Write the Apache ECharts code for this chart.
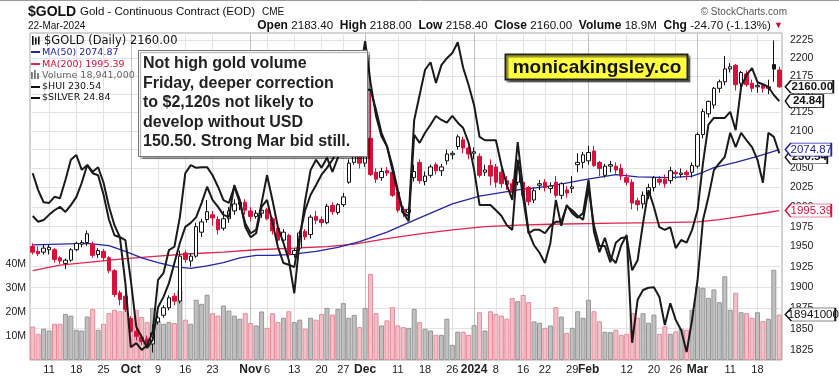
<!DOCTYPE html>
<html><head><meta charset="utf-8">
<script src="https://cdn.jsdelivr.net/npm/echarts@6/dist/echarts.min.js"></script>
<style>html,body{margin:0;padding:0;background:#fff}#c{width:839px;height:379px}</style>
</head><body><div id="c"></div>
<script>
// ---------- DATA ----------
const dates = [
'2023-09-06','2023-09-07','2023-09-08','2023-09-11','2023-09-12','2023-09-13','2023-09-14','2023-09-15','2023-09-18','2023-09-19','2023-09-20','2023-09-21','2023-09-22','2023-09-25','2023-09-26','2023-09-27','2023-09-28','2023-09-29',
'2023-10-02','2023-10-03','2023-10-04','2023-10-05','2023-10-06','2023-10-09','2023-10-10','2023-10-11','2023-10-12','2023-10-13','2023-10-16','2023-10-17','2023-10-18','2023-10-19','2023-10-20','2023-10-23','2023-10-24','2023-10-25','2023-10-26','2023-10-27','2023-10-30','2023-10-31',
'2023-11-01','2023-11-02','2023-11-03','2023-11-06','2023-11-07','2023-11-08','2023-11-09','2023-11-10','2023-11-13','2023-11-14','2023-11-15','2023-11-16','2023-11-17','2023-11-20','2023-11-21','2023-11-22','2023-11-24','2023-11-27','2023-11-28','2023-11-29','2023-11-30',
'2023-12-01','2023-12-04','2023-12-05','2023-12-06','2023-12-07','2023-12-08','2023-12-11','2023-12-12','2023-12-13','2023-12-14','2023-12-15','2023-12-18','2023-12-19','2023-12-20','2023-12-21','2023-12-22','2023-12-26','2023-12-27','2023-12-28','2023-12-29',
'2024-01-02','2024-01-03','2024-01-04','2024-01-05','2024-01-08','2024-01-09','2024-01-10','2024-01-11','2024-01-12','2024-01-16','2024-01-17','2024-01-18','2024-01-19','2024-01-22','2024-01-23','2024-01-24','2024-01-25','2024-01-26','2024-01-29','2024-01-30','2024-01-31',
'2024-02-01','2024-02-02','2024-02-05','2024-02-06','2024-02-07','2024-02-08','2024-02-09','2024-02-12','2024-02-13','2024-02-14','2024-02-15','2024-02-16','2024-02-20','2024-02-21','2024-02-22','2024-02-23','2024-02-26','2024-02-27','2024-02-28','2024-02-29',
'2024-03-01','2024-03-04','2024-03-05','2024-03-06','2024-03-07','2024-03-08','2024-03-11','2024-03-12','2024-03-13','2024-03-14','2024-03-15','2024-03-18','2024-03-19','2024-03-20','2024-03-21','2024-03-22'];

const openP = [1950,1944,1943,1946,1946,1936,1929,1933,1946,1953,1955,1953,1940,1944,1936,1920,1893,1889,
1862,1847,1840,1838,1832,1858,1866,1875,1889,1883,1942,1932,1938,1968,1984,1990,1984,1973,1985,1995,2003,2006,
1995,1988,1992,1997,1985,1973,1958,1964,1940,1948,1969,1965,1988,1984,1980,2002,1993,2003,2032,2058,2067,
2057,2090,2045,2038,2047,2045,2019,1997,1993,2038,2058,2033,2041,2055,2047,2060,2068,2079,2088,2077,
2070,2066,2045,2054,2052,2045,2034,2030,2032,2032,2025,2009,2028,2032,2024,2032,2015,2022,2024,2055,2058,
2060,2073,2058,2041,2053,2053,2050,2038,2032,2008,2004,2015,2025,2036,2036,2034,2045,2042,2045,2045,
2053,2095,2123,2135,2158,2167,2185,2190,2165,2178,2165,2160,2162,2158,2191,2183.4];
const highP = [1954,1950,1953,1952,1948,1938,1935,1948,1956,1958,1970,1956,1948,1947,1938,1922,1896,1895,
1865,1850,1843,1842,1855,1866,1878,1890,1893,1945,1945,1942,1980,1985,2009,1995,1988,1995,2000,2010,2012,2010,
2000,1996,2009,1999,1987,1975,1972,1966,1948,1970,1972,1990,1995,1988,2004,2006,2005,2018,2062,2075,2070,
2095,2152,2050,2051,2052,2050,2021,2001,2000,2055,2062,2046,2055,2058,2056,2075,2073,2095,2092,2080,
2078,2070,2055,2062,2056,2050,2040,2036,2060,2038,2027,2025,2035,2036,2032,2040,2032,2027,2040,2070,2072,
2080,2080,2060,2056,2060,2058,2056,2043,2036,2012,2020,2030,2040,2040,2042,2052,2048,2050,2048,2058,
2098,2130,2141,2160,2170,2203,2193,2192,2182,2183,2170,2166,2165,2170,2225.2,2188];
const lowP = [1940,1938,1940,1940,1930,1928,1922,1931,1944,1949,1951,1936,1936,1932,1917,1888,1878,1870,
1845,1836,1831,1830,1822,1855,1863,1872,1878,1880,1930,1925,1936,1962,1980,1976,1965,1970,1980,1990,1996,1990,
1982,1985,1986,1983,1965,1955,1955,1935,1936,1945,1958,1960,1978,1975,1978,1990,1990,2000,2030,2055,2050,
2052,2040,2031,2034,2040,2013,1993,1987,1987,2033,2030,2028,2038,2042,2040,2055,2062,2075,2070,2062,
2062,2038,2040,2028,2025,2025,2022,2014,2028,2012,2002,2005,2022,2020,2018,2012,2010,2012,2018,2045,2050,
2055,2052,2040,2038,2045,2043,2035,2028,1997,1995,1998,2010,2020,2028,2025,2030,2036,2038,2035,2038,
2050,2090,2118,2130,2152,2162,2180,2155,2160,2160,2153,2152,2152,2150,2167,2158.4];
const closeP = [1943,1941,1948,1949,1934,1932,1933,1946,1954,1955,1966,1939,1945,1936,1920,1891,1885,1873,
1847,1841,1835,1832,1845,1863,1875,1887,1883,1938,1934,1938,1975,1981,1994,1986,1971,1985,1995,2004,2006,1996,
1988,1992,1996,1985,1970,1958,1968,1940,1945,1967,1962,1987,1983,1980,2001,1994,2003,2013,2057,2068,2057,
2089,2042,2036,2046,2044,2015,1996,1993,1997,2046,2034,2040,2052,2047,2052,2069,2070,2092,2077,2069,
2072,2041,2048,2040,2032,2030,2029,2019,2052,2015,2007,2021,2030,2025,2027,2015,2030,2018,2026,2058,2068,
2071,2054,2050,2053,2055,2048,2040,2032,2005,2003,2015,2025,2038,2032,2030,2047,2043,2044,2042,2054,
2095,2126,2140,2158,2167,2185,2188,2163,2180,2163,2158,2162,2158,2160,2184.7,2160];
const priorClose = 1952;

const volumeM = [13.9,10.9,13.0,12.3,15.1,15.1,19.2,18.5,12.6,12.3,18.1,21.3,12.6,15.1,19.5,20.9,20.3,20.6,
16.9,20.9,17.9,15.8,21.7,16.5,15.1,15.8,15.4,29.0,16.8,15.1,25.1,23.4,27.2,19.5,18.5,22.7,20.6,18.5,17.2,19.5,
15.4,14.4,20.2,13.4,19.5,15.8,17.6,20.3,15.8,16.8,13.0,17.6,16.8,19.2,21.7,18.9,21.3,23.7,17.6,18.8,13.7,
21.7,35.9,19.5,14.4,16.5,22.0,14.4,13.7,13.4,21.3,15.8,13.0,12.3,10.5,10.5,17.2,6.3,11.8,11.8,10.5,
14.5,19.9,12.3,20.3,19.2,18.5,17.2,25.8,24.5,27.1,24.1,16.1,15.5,13.4,14.4,22.0,18.1,11.3,13.4,20.3,17.6,
25.1,20.3,16.1,11.8,11.6,12.6,10.5,10.9,19.6,17.6,19.5,15.5,18.9,10.9,14.0,10.9,11.9,13.0,12.6,20.9,
30.6,30.1,25.9,29.4,24.1,34.9,20.9,28.0,19.9,19.5,17.6,19.9,16.2,17.2,37.6,18.941];

const hui = [219.6,218.6,218.9,219.8,220.6,221.2,220.3,221.5,222.9,225.4,228.5,227.3,228.1,225.4,221.2,218.0,215.9,215.4,
208.4,200.3,198.5,196.6,198.0,203.7,205.5,207.9,211.4,214.9,217.7,218.4,219.4,221.9,224.7,222.4,221.2,219.8,219.4,225.0,222.4,217.7,
215.9,216.6,221.2,222.4,218.4,214.2,211.4,211.1,210.7,216.3,220.6,223.3,225.0,226.8,228.0,229.4,231.1,234.6,236.3,238.1,239.8,
241.6,241.6,238.1,234.1,231.8,228.3,224.1,220.1,219.6,236.3,240.7,245.1,246.4,242.8,245.9,247.1,248.0,249.9,245.4,242.4,
238.9,233.4,232.8,232.8,232.8,228.5,225.0,222.4,232.5,224.1,216.8,214.5,213.2,211.4,214.9,222.4,217.9,221.5,220.1,219.3,220.1,
225.9,216.8,213.3,215.8,212.5,211.4,214.5,216.3,197.5,205.0,206.7,207.1,207.2,205.5,200.6,204.4,201.5,199.7,195.9,201.5,
208.4,218.9,222.9,227.6,228.8,229.9,234.1,231.6,234.1,232.8,231.6,229.4,225.4,234.1,233.4,230.54];

const silver = [23.77,23.52,23.34,23.33,23.42,23.40,23.67,23.97,24.04,23.82,23.89,23.77,23.74,23.45,23.08,22.85,22.82,22.14,
21.19,21.25,21.15,21.22,21.41,22.19,22.29,22.63,22.68,23.12,23.77,23.89,23.85,23.86,23.86,23.74,23.57,23.37,23.33,23.57,23.33,23.03,
22.88,22.93,23.33,23.74,23.37,22.97,22.74,22.48,21.99,22.78,23.37,23.82,23.97,23.85,24.00,23.79,24.00,24.26,24.56,24.86,25.23,
25.73,25.11,24.62,24.32,24.17,23.82,23.48,23.18,23.06,24.34,24.22,24.37,24.49,24.62,24.56,24.52,24.62,24.52,24.44,24.22,
23.82,23.30,23.30,23.30,23.22,23.14,23.00,22.93,23.97,23.40,22.88,22.93,22.93,22.88,22.99,23.05,23.05,23.28,23.22,23.14,23.08,
23.55,22.99,22.69,22.69,22.45,22.74,22.81,22.82,22.33,22.48,23.03,23.52,23.27,22.97,22.93,22.97,22.66,22.78,22.74,22.93,
23.22,23.92,24.49,24.59,24.59,24.59,24.68,24.41,25.05,25.23,25.33,25.12,25.09,25.05,24.93,24.84];

const ma50Dates = ['2023-09-06','2023-09-13','2023-09-20','2023-09-26','2023-09-29','2023-10-04','2023-10-09','2023-10-12','2023-10-17','2023-10-20','2023-10-25','2023-10-30','2023-11-02','2023-11-07','2023-11-10','2023-11-17','2023-11-24','2023-11-30','2023-12-07','2023-12-15','2023-12-26','2024-01-03','2024-01-12','2024-01-23','2024-01-31','2024-02-08','2024-02-14','2024-02-23','2024-02-29','2024-03-04','2024-03-06','2024-03-12','2024-03-18','2024-03-22'];
const ma50Values = [1952,1953,1954,1951,1944,1936,1930,1925,1923,1926,1930,1936,1939,1939,1940,1944,1949,1956,1968,1986,2004,2014,2022,2027,2035,2042,2039,2038,2040,2045,2051,2058,2066,2074.87];

const ma200Dates = ['2023-09-06','2023-09-13','2023-09-21','2023-09-29','2023-10-09','2023-10-17','2023-10-25','2023-11-02','2023-11-13','2023-11-21','2023-11-29','2023-12-07','2023-12-15','2023-12-26','2024-01-04','2024-01-12','2024-01-23','2024-02-08','2024-02-21','2024-03-01','2024-03-07','2024-03-13','2024-03-19','2024-03-22'];
const ma200Values = [1920,1927,1931,1935,1938,1941,1943,1946,1948,1950,1953,1960,1966,1971,1975,1977,1978,1979.5,1980,1981,1984,1988,1992,1995.39];

const tickDates = ['2023-09-11','2023-09-18','2023-09-25','2023-10-02','2023-10-09','2023-10-16','2023-10-23','2023-11-01','2023-11-06','2023-11-13','2023-11-20','2023-11-27','2023-12-01','2023-12-11','2023-12-18','2023-12-26','2024-01-02','2024-01-08','2024-01-16','2024-01-22','2024-01-29','2024-02-01','2024-02-12','2024-02-20','2024-02-26','2024-03-01','2024-03-11','2024-03-18'];
const tickTexts = ['11','18','25','Oct','9','16','23','Nov','6','13','20','27','Dec','11','18','26','2024','8','16','22','29','Feb','12','20','26','Mar','11','18'];
const monthLabels = ['Oct','Nov','Dec','2024','Feb','Mar'];
const priceTicks = [1825,1850,1875,1900,1925,1950,1975,2000,2025,2050,2075,2100,2125,2150,2175,2200,2225];
const volumeTicks = [10,20,30,40];

// ---------- STYLE ----------
const RED = '#d8103a', BLACK = '#111';
const FONT = 'Liberation Sans, Arial, sans-serif';
const tickMap = new Map(tickDates.map((d,i)=>[d,tickTexts[i]]));
const lastDate = dates[dates.length-1];

const candleData = dates.map((d,i)=>{
  const o=openP[i], c=closeP[i], l=lowP[i], h=highP[i];
  const prev = i ? closeP[i-1] : priorClose;
  const col = c < prev ? RED : BLACK;
  const fill = c > o ? '#ffffff' : col;
  return {value:[o,c,l,h], itemStyle:{color:fill,color0:fill,borderColor:col,borderColor0:col,borderWidth:1}};
});
const volData = dates.map((d,i)=>{
  const prev = i ? closeP[i-1] : priorClose;
  const down = closeP[i] < prev;
  return {value: volumeM[i], itemStyle:{color: down?'#f4c0c8':'#c0c0c0', borderColor: down?'#e38b9a':'#959595', borderWidth:1}};
});
const pair = (ds, vs) => ds.map((d,i)=>[d, vs[i]]);

const TAG = 'path://M0,6 L6,0 L50,0 L50,12 L6,12 Z';
function tag(value, text, w, color, bold, dy, z){
  return {symbol:TAG, symbolSize:[w,13], symbolKeepAspect:false,
    symbolOffset:[6 + w/2, dy||0], silent:true, z: z||6,
    data:[{coord:[lastDate, value], value:value}],
    itemStyle:{color:'#fff', borderColor:color, borderWidth:1},
    label:{show:true, position:'inside', offset:[3,0], formatter:text, color:color,
      fontFamily:FONT, fontSize:11.5, fontWeight: bold?'bold':'normal'}};
}

const vLines = tickDates.map((d,i)=>({xAxis:d, lineStyle:{color: monthLabels.includes(tickTexts[i]) ? '#c2c2c2' : '#e3e3e3', width:1, type:'solid'}}));

const chart = echarts.init(document.getElementById('c'), null, {renderer:'canvas'});
chart.setOption({
  animation:false,
  backgroundColor:'#fff',
  textStyle:{fontFamily:FONT},
  grid:{left:30, right:57, top:33, bottom:19, show:true, borderColor:'#a8a8a8', borderWidth:1, backgroundColor:'transparent'},
  xAxis:{type:'category', data:dates, boundaryGap:true,
    axisLine:{show:false}, axisTick:{show:false}, splitLine:{show:false},
    axisLabel:{interval:(idx,val)=>tickMap.has(val), margin:4, fontSize:11, color:'#222', fontFamily:FONT,
      formatter:(val)=>{const t=tickMap.get(val)||''; return monthLabels.includes(t)?'{m|'+t+'}':t;},
      rich:{m:{fontWeight:'bold', fontSize:12, color:'#222', fontFamily:FONT}}}},
  yAxis:[
    {type:'log', logBase:10, min:1813.3, max:2235.8, position:'right', scale:true,
      axisLine:{show:false}, axisTick:{show:false, customValues:priceTicks},
      axisLabel:{customValues:priceTicks, margin:8, fontSize:10.5, color:'#222', fontFamily:FONT, formatter:v=>String(Math.round(v))},
      splitLine:{show:true, lineStyle:{color:'#e3e3e3', width:1}}},
    {type:'value', min:0, max:136.25, interval:10, position:'left',
      axisLine:{show:false}, axisTick:{show:false}, splitLine:{show:false},
      axisLabel:{margin:4, fontSize:10.5, color:'#222', fontFamily:FONT,
        formatter:v=>volumeTicks.includes(Math.round(v))? Math.round(v)+'M':''}},
    {type:'value', min:194.5, max:251.5, show:false},
    {type:'value', min:21.0, max:25.85, show:false}
  ],
  series:[
    {name:'Volume', type:'bar', yAxisIndex:1, data:volData, barCategoryGap:'8%', z:1, silent:true,
      markLine:{silent:true, symbol:['none','none'], label:{show:false}, z:0, data:vLines},
      markPoint: tag(18.941, '18941000', 50, '#111', false, 0, 6)},
    {name:'MA200', type:'line', yAxisIndex:0, data:pair(ma200Dates, ma200Values), showSymbol:false, z:2, silent:true,
      lineStyle:{color:'#e0244c', width:1.3}, itemStyle:{color:'#e0244c'},
      markPoint: tag(1995.39, '1995.39', 46, '#d8103a', false, 0, 6)},
    {name:'MA50', type:'line', yAxisIndex:0, data:pair(ma50Dates, ma50Values), showSymbol:false, z:2, silent:true,
      lineStyle:{color:'#2424a6', width:1.3}, itemStyle:{color:'#2424a6'},
      markPoint: tag(2074.87, '2074.87', 46, '#2424a6', false, 0, 8)},
    {name:'$GOLD', type:'candlestick', yAxisIndex:0, data:candleData, barWidth:4, z:3, silent:true,
      markPoint: tag(2160, '2160.00', 48, '#111', true, 0, 7)},
    {name:'$HUI', type:'line', yAxisIndex:2, data:hui, showSymbol:false, z:4, silent:true,
      lineStyle:{color:'#1a1a1a', width:2}, itemStyle:{color:'#1a1a1a'},
      markPoint: tag(230.54, '230.54', 42, '#111', true, 4, 5)},
    {name:'$SILVER', type:'line', yAxisIndex:3, data:silver, showSymbol:false, z:4, silent:true,
      lineStyle:{color:'#1a1a1a', width:2}, itemStyle:{color:'#1a1a1a'},
      markPoint: tag(24.84, '24.84', 38, '#111', true, 0, 7)}
  ],
  graphic:[
    {type:'line', shape:{x1:0,y1:0.5,x2:839,y2:0.5}, style:{stroke:'#9a9a9a', lineWidth:1}, z:50},
    {type:'text', x:28, y:12, style:{text:'$GOLD', font:'bold 14px '+FONT, fill:'#111', textVerticalAlign:'middle'}, z:50},
    {type:'text', x:80, y:12, style:{text:'Gold - Continuous Contract (EOD)', font:'11.5px '+FONT, fill:'#111', textVerticalAlign:'middle'}, z:50},
    {type:'text', x:262, y:12.5, style:{text:'CME', font:'10px '+FONT, fill:'#111', textVerticalAlign:'middle'}, z:50},
    {type:'text', x:787, y:12, style:{text:'\u00A9 StockCharts.com', font:'10px '+FONT, fill:'#555', textAlign:'right', textVerticalAlign:'middle'}, z:50},
    {type:'text', x:28, y:26, style:{text:'22-Mar-2024', font:'10px '+FONT, fill:'#111', textVerticalAlign:'middle'}, z:50},
    {type:'text', x:783, y:26, style:{
      text:'{b|Open} {n|2183.40}  {b|High} {n|2188.00}  {b|Low} {n|2158.40}  {b|Close} {n|2160.00}  {b|Volume} {n|18.9M}  {b|Chg} {n|-24.70 (-1.13%)} {r|\u25BC}',
      textAlign:'right', textVerticalAlign:'middle',
      rich:{b:{font:'bold 12px '+FONT, fill:'#111'}, n:{font:'11.6px '+FONT, fill:'#111'}, r:{font:'9px '+FONT, fill:'#c8102e'}}}, z:50},
    // legend
    {type:'rect', shape:{x:32,y:36,width:1.6,height:9}, style:{fill:'#111'}, z:50},
    {type:'rect', shape:{x:35,y:37.5,width:1.6,height:7}, style:{fill:'#111'}, z:50},
    {type:'rect', shape:{x:38,y:36.5,width:1.6,height:8}, style:{fill:'#111'}, z:50},
    {type:'text', x:44, y:41, style:{text:'$GOLD (Daily) 2160.00', font:'11.5px DejaVu Sans', fill:'#111', textVerticalAlign:'middle'}, z:50},
    {type:'line', shape:{x1:31,y1:52,x2:40,y2:52}, style:{stroke:'#2424a6', lineWidth:2}, z:50},
    {type:'text', x:42, y:52.5, style:{text:'MA(50) 2074.87', font:'9.5px DejaVu Sans', fill:'#2424a6', textVerticalAlign:'middle'}, z:50},
    {type:'line', shape:{x1:31,y1:64,x2:40,y2:64}, style:{stroke:'#e0244c', lineWidth:2}, z:50},
    {type:'text', x:42, y:64.5, style:{text:'MA(200) 1995.39', font:'9.5px DejaVu Sans', fill:'#d8103a', textVerticalAlign:'middle'}, z:50},
    {type:'rect', shape:{x:31,y:72,width:1.8,height:7}, style:{fill:'#777'}, z:50},
    {type:'rect', shape:{x:34,y:70,width:1.8,height:9}, style:{fill:'#777'}, z:50},
    {type:'rect', shape:{x:37,y:73,width:1.8,height:6}, style:{fill:'#777'}, z:50},
    {type:'text', x:42, y:75.5, style:{text:'Volume 18,941,000', font:'9.5px DejaVu Sans', fill:'#666', textVerticalAlign:'middle'}, z:50},
    {type:'line', shape:{x1:31,y1:87,x2:40,y2:87}, style:{stroke:'#111', lineWidth:2}, z:50},
    {type:'text', x:42, y:87, style:{text:'$HUI 230.54', font:'9.5px DejaVu Sans', fill:'#111', textVerticalAlign:'middle'}, z:50},
    {type:'line', shape:{x1:31,y1:98,x2:40,y2:98}, style:{stroke:'#111', lineWidth:2}, z:50},
    {type:'text', x:42, y:98, style:{text:'$SILVER 24.84', font:'9.5px DejaVu Sans', fill:'#111', textVerticalAlign:'middle'}, z:50},
    // annotation box
    {type:'rect', shape:{x:138.5,y:50.5,width:229,height:106}, style:{fill:'#fff', stroke:'#777', lineWidth:1, shadowColor:'rgba(0,0,0,0.35)', shadowOffsetX:2, shadowOffsetY:2, shadowBlur:1}, z:60},
    {type:'text', x:143, y:64, style:{text:'Not high gold volume', font:'bold 16px '+FONT, fill:'#222', textVerticalAlign:'middle'}, z:61},
    {type:'text', x:143, y:83.5, style:{text:'Friday, deeper correction', font:'bold 16px '+FONT, fill:'#222', textVerticalAlign:'middle'}, z:61},
    {type:'text', x:143, y:103, style:{text:'to $2,120s not likely to', font:'bold 16px '+FONT, fill:'#222', textVerticalAlign:'middle'}, z:61},
    {type:'text', x:143, y:122.5, style:{text:'develop without USD', font:'bold 16px '+FONT, fill:'#222', textVerticalAlign:'middle'}, z:61},
    {type:'text', x:143, y:142, style:{text:'150.50. Strong Mar bid still.', font:'bold 16px '+FONT, fill:'#222', textVerticalAlign:'middle'}, z:61},
    // yellow badge
    {type:'rect', shape:{x:505.5,y:54.5,width:182,height:25}, style:{fill:'#ffff3c', stroke:'#222', lineWidth:2, shadowColor:'rgba(0,0,0,0.45)', shadowOffsetX:2, shadowOffsetY:2, shadowBlur:1}, z:60},
    {type:'text', x:597, y:67.5, style:{text:'monicakingsley.co', font:'bold 19px '+FONT, fill:'#111', textAlign:'center', textVerticalAlign:'middle'}, z:61}
  ]
});
</script></body></html>
